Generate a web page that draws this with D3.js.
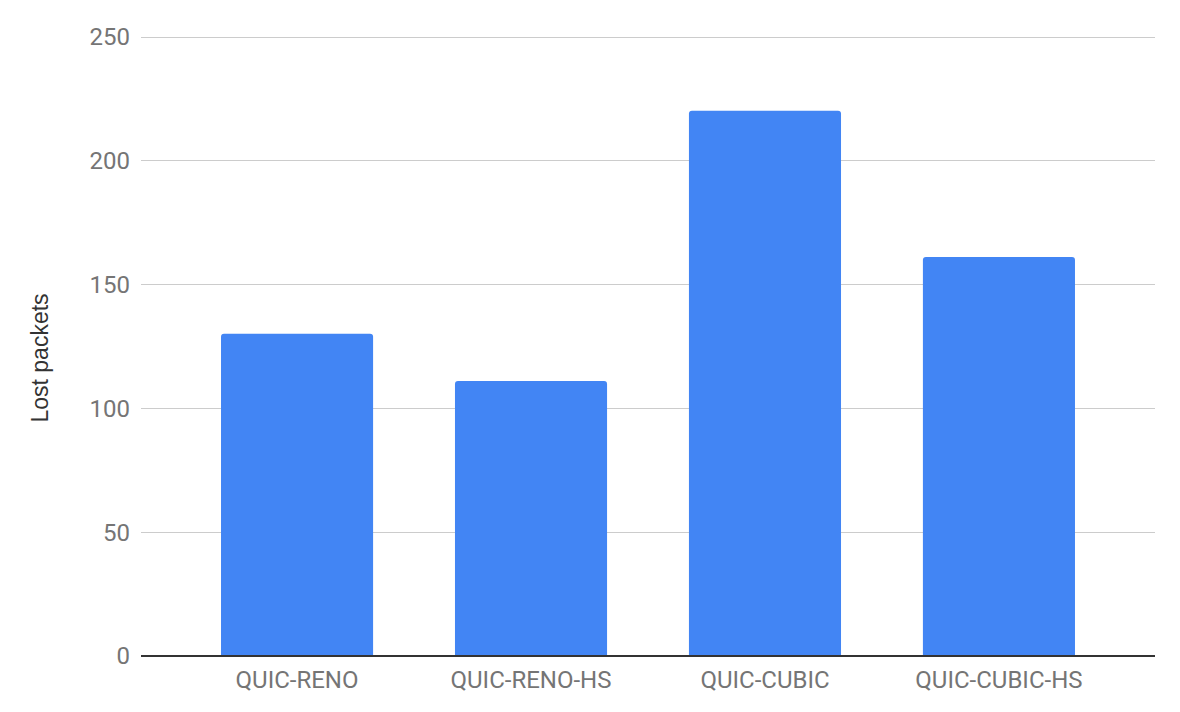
<!DOCTYPE html>
<html><head><meta charset="utf-8">
<script src="https://cdn.jsdelivr.net/npm/d3@7"></script>
<style>body{margin:0;background:#fff;} text{font-family:Roboto,"Noto Sans",sans-serif;}</style>
</head><body>
<svg id="c" width="1180" height="712"></svg>
<script>
const categories = ["QUIC-RENO", "QUIC-RENO-HS", "QUIC-CUBIC", "QUIC-CUBIC-HS"];
const lostPackets = [130, 111, 220, 161];
const yTicks = [0, 50, 100, 150, 200, 250];
const yTitle = "Lost packets";

(function () {
const svg = d3.select("#c");
const mLeft = 141, mRight = 1155, mTop = 36.5, mBottom = 656;
const y = d3.scaleLinear().domain([0, 250]).range([mBottom, mTop]);
const x = d3.scaleBand().domain(categories).range([mLeft, mRight]).paddingInner(0.35).paddingOuter(0.342);

// gridlines
svg.append("g").selectAll("line").data(yTicks.filter(d => d !== 0)).join("line")
  .attr("x1", mLeft).attr("x2", mRight)
  .attr("y1", d => Math.round(y(d)) + 0.5).attr("y2", d => Math.round(y(d)) + 0.5)
  .attr("stroke", "#cccccc").attr("stroke-width", 1);

// y tick labels
svg.append("g").selectAll("text").data(yTicks).join("text")
  .attr("x", 130).attr("y", d => y(d)).attr("dy", "0.35em")
  .attr("text-anchor", "end").attr("font-size", 24).attr("fill", "#757575")
  .text(d => d);

// bars with rounded top corners
const r = 3;
svg.append("g").selectAll("path").data(categories).join("path")
  .attr("d", (c, i) => {
    const x0 = x(c), w = x.bandwidth(), y0 = y(lostPackets[i]), y1 = y(0);
    return `M${x0},${y1}V${y0 + r}Q${x0},${y0} ${x0 + r},${y0}H${x0 + w - r}Q${x0 + w},${y0} ${x0 + w},${y0 + r}V${y1}Z`;
  })
  .attr("fill", "#4285f4");

// baseline
svg.append("line").attr("x1", mLeft).attr("x2", mRight)
  .attr("y1", mBottom).attr("y2", mBottom)
  .attr("stroke", "#333333").attr("stroke-width", 2);

// x labels
svg.append("g").selectAll("text").data(categories).join("text")
  .attr("x", c => x(c) + x.bandwidth() / 2).attr("y", 688)
  .attr("text-anchor", "middle").attr("font-size", 24).attr("fill", "#757575")
  .text(c => c);

// y title
svg.append("text").attr("transform", `translate(48,358) rotate(-90)`)
  .attr("text-anchor", "middle").attr("font-size", 23).attr("fill", "#333333")
  .style("font-family", "'Liberation Sans', Arial, sans-serif")
  .text(yTitle);
})();
</script>
</body></html>
